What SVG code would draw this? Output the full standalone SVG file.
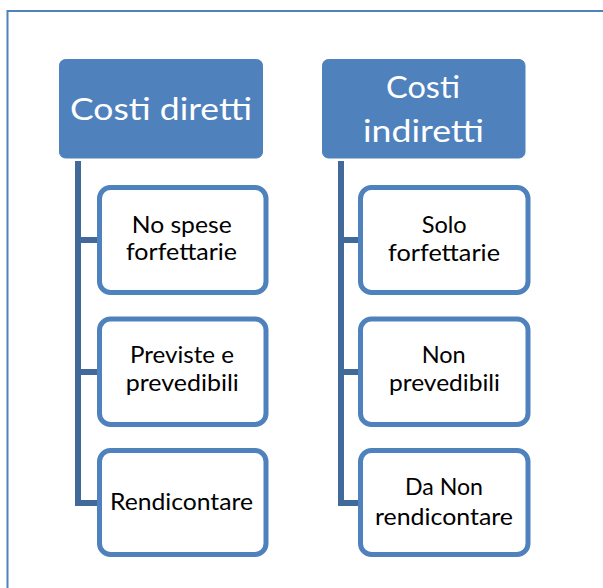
<svg xmlns="http://www.w3.org/2000/svg" width="603" height="588" viewBox="0 0 603 588">
<style>
.head rect{fill:#4F81BD;stroke:#4F81BD;stroke-width:1}
.head text{fill:#FFFFFF;font-family:Lato,"Open Sans",sans-serif;font-size:31px;text-anchor:middle}
.child rect{fill:#FFFFFF;stroke:#4F81BD;stroke-width:5}
.child text{fill:#000000;font-family:Lato,"Open Sans",sans-serif;font-size:23px;text-anchor:middle}
.conn path{fill:none;stroke:#41699A;stroke-width:6;stroke-linejoin:miter}
</style>
<rect x="0" y="0" width="603" height="588" fill="#FFFFFF"/>
<rect x="7.5" y="11" width="620" height="600" fill="none" stroke="#4F81BD" stroke-width="2"/>
<g id="connectors" class="conn">
<path d="M78,161 V503 H97 M78,240 H97 M78,372 H97"/>
<path d="M341,161 V503 H358 M341,240 H358 M341,372 H358"/>
</g>
<g id="costi-diretti" class="head">
<rect x="59.5" y="59.5" width="203" height="98.5" rx="6"/>
<text x="161" y="120" textLength="182" lengthAdjust="spacingAndGlyphs">Costi diretti</text>
</g>
<g id="costi-indiretti" class="head">
<rect x="322.5" y="59.5" width="202.5" height="98.5" rx="6"/>
<text x="423" y="98" textLength="74" lengthAdjust="spacingAndGlyphs">Costi</text>
<text x="423.5" y="141.5" textLength="121" lengthAdjust="spacingAndGlyphs">indiretti</text>
</g>
<g id="no-spese" class="child">
<rect x="99.5" y="187.5" width="166.5" height="105" rx="11"/>
<text x="181.7" y="233" textLength="100" lengthAdjust="spacingAndGlyphs">No spese</text>
<text x="181.5" y="260" textLength="111" lengthAdjust="spacingAndGlyphs">forfettarie</text>
</g>
<g id="previste" class="child">
<rect x="99.5" y="319" width="166.5" height="105.5" rx="11"/>
<text x="182" y="363" textLength="104" lengthAdjust="spacingAndGlyphs">Previste e</text>
<text x="182.3" y="390.5" textLength="113" lengthAdjust="spacingAndGlyphs">prevedibili</text>
</g>
<g id="rendicontare" class="child">
<rect x="99.5" y="450.5" width="166.5" height="104" rx="11"/>
<text x="181.5" y="509.5" textLength="143" lengthAdjust="spacingAndGlyphs">Rendicontare</text>
</g>
<g id="solo-forfettarie" class="child">
<rect x="360.5" y="187.5" width="167.5" height="105" rx="11"/>
<text x="444.2" y="233" textLength="45" lengthAdjust="spacingAndGlyphs">Solo</text>
<text x="444" y="261" textLength="112" lengthAdjust="spacingAndGlyphs">forfettarie</text>
</g>
<g id="non-prevedibili" class="child">
<rect x="360.5" y="319" width="167.5" height="105.5" rx="11"/>
<text x="443.7" y="363" textLength="44" lengthAdjust="spacingAndGlyphs">Non</text>
<text x="444.5" y="390.5" textLength="111" lengthAdjust="spacingAndGlyphs">prevedibili</text>
</g>
<g id="da-non-rendicontare" class="child">
<rect x="360.5" y="450.5" width="167.5" height="104" rx="11"/>
<text x="444" y="495" textLength="78" lengthAdjust="spacingAndGlyphs">Da Non</text>
<text x="444" y="525" textLength="138" lengthAdjust="spacingAndGlyphs">rendicontare</text>
</g>
</svg>
